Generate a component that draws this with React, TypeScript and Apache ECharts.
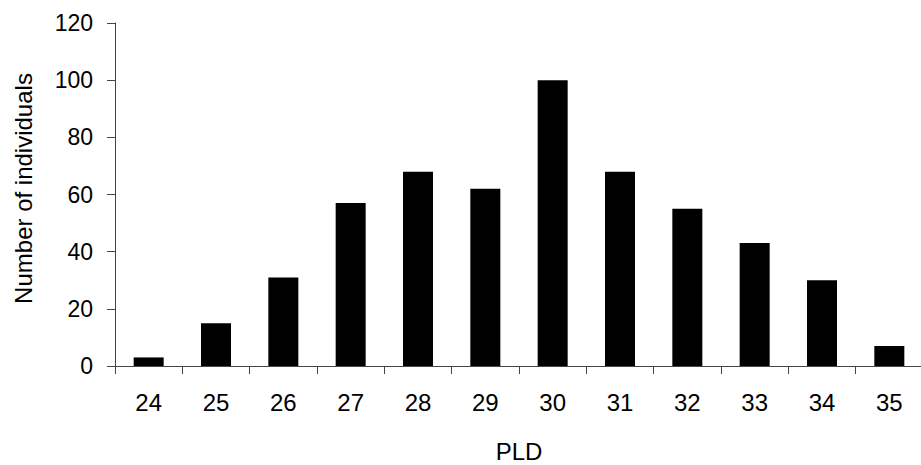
import React, { useEffect, useRef } from "react";
import * as echarts from "echarts";

const categories: string[] = ["24", "25", "26", "27", "28", "29", "30", "31", "32", "33", "34", "35"];
const counts: number[] = [3, 15, 31, 57, 68, 62, 100, 68, 55, 43, 30, 7];
const yTicks = { min: 0, max: 120, interval: 20 };
const xTitle = "PLD";
const yTitle = "Number of individuals";

export default function App() {
  const ref = useRef<HTMLDivElement>(null);
  useEffect(() => {
    if (!ref.current) return;
    const chart = echarts.init(ref.current, undefined, { renderer: "svg" });
    const font = "'Liberation Sans', Arial, sans-serif";
    chart.setOption({
      animation: false,
      backgroundColor: "#ffffff",
      grid: {
        left: 115,
        top: 23,
        width: 808,
        height: 343,
        containLabel: false,
        outerBoundsMode: "none",
      },
      xAxis: {
        type: "category",
        data: categories,
        name: xTitle,
        nameLocation: "middle",
        nameGap: 73,
        nameTextStyle: { color: "#000", fontSize: 24, lineHeight: 24, fontFamily: font },
        axisLine: { show: true, lineStyle: { color: "#444", width: 1 } },
        axisTick: { show: true, length: 8, lineStyle: { color: "#444" } },
        axisLabel: { color: "#000", fontSize: 24, fontFamily: font, margin: 24 },
        splitLine: { show: false },
      },
      yAxis: {
        type: "value",
        min: yTicks.min,
        max: yTicks.max,
        interval: yTicks.interval,
        name: yTitle,
        nameLocation: "middle",
        nameRotate: 90,
        nameGap: 80,
        nameTextStyle: { color: "#000", fontSize: 24, fontFamily: font, padding: [0, 0, 0, 12] },
        axisLine: { show: true, lineStyle: { color: "#444", width: 1 } },
        axisTick: { show: true, length: 8, lineStyle: { color: "#444" } },
        axisLabel: { color: "#000", fontSize: 23, fontFamily: font, margin: 22 },
        splitLine: { show: false },
      },
      series: [
        {
          type: "bar",
          data: counts,
          barWidth: 30,
          itemStyle: { color: "#000" },
        },
      ],
    });
    return () => chart.dispose();
  }, []);
  return (
    <div
      ref={ref}
      style={{ position: "absolute", left: 0, top: 0, width: 921, height: 465 }}
    />
  );
}
